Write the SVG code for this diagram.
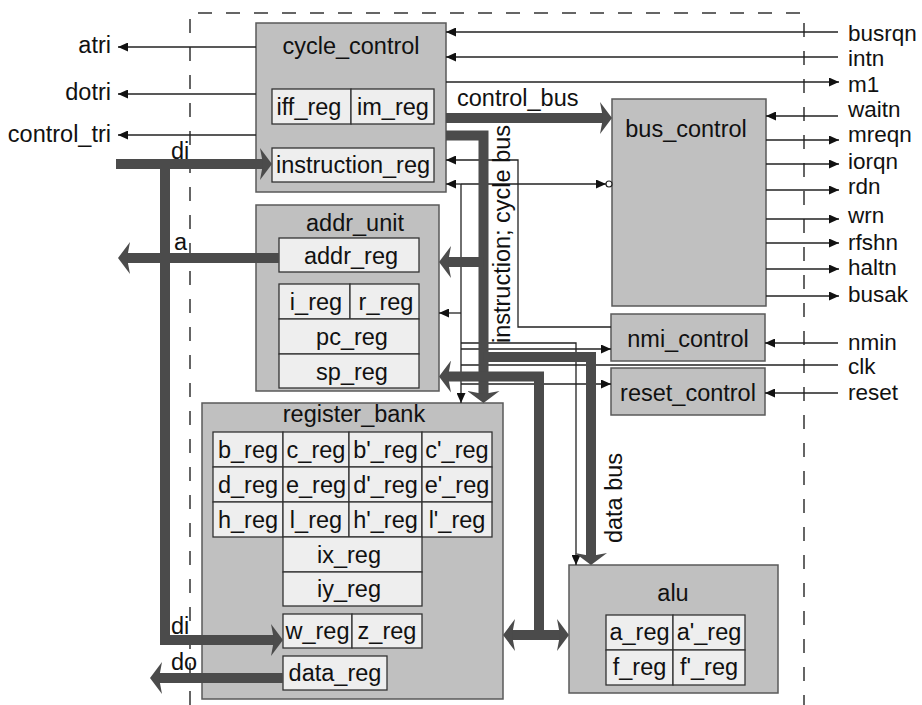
<svg xmlns="http://www.w3.org/2000/svg" width="922" height="705" viewBox="0 0 922 705">
<defs>
<style>
text{font-family:"Liberation Sans",Arial,sans-serif;font-size:23.5px;fill:#111}
.m{text-anchor:middle}
.e{text-anchor:end}
.p{font-size:22.5px}
.box{fill:#c0c0c0;stroke:#5a5a5a;stroke-width:1.5}
.cell{fill:#eeeeee;stroke:#333;stroke-width:1.3}
.w{fill:none;stroke:#222;stroke-width:1.3}
.wa{fill:none;stroke:#222;stroke-width:1.3;marker-end:url(#ah)}
.bus{fill:none;stroke:#4b4b4b;stroke-width:10;stroke-linejoin:miter}
.be{marker-end:url(#bh)}
.bs{marker-start:url(#bh)}
.dash{fill:none;stroke:#333;stroke-width:1.5;stroke-dasharray:14 14}
</style>
<marker id="ah" markerUnits="userSpaceOnUse" markerWidth="10" markerHeight="9" viewBox="0 0 10 9" refX="10" refY="4.5" orient="auto"><path d="M0,0L10,4.5L0,9z" fill="#111"/></marker>
<marker id="bh" markerUnits="userSpaceOnUse" markerWidth="12" markerHeight="32" viewBox="0 0 12 32" refX="3" refY="16" orient="auto-start-reverse"><path d="M0,0L12,16L0,32L3,16z" fill="#4b4b4b"/></marker>
</defs>
<rect width="922" height="705" fill="#fff"/>
<path class="dash" d="M190,705V13H804V705"/>

<g id="cycle_control">
<rect class="box" x="256" y="23" width="190" height="169"/>
<text class="m" x="351" y="54">cycle_control</text>
<rect class="cell" x="272" y="89" width="79" height="35"/>
<rect class="cell" x="351" y="89" width="83" height="35"/>
<text class="m" x="309" y="115">iff_reg</text>
<text class="m" x="393" y="115">im_reg</text>
<rect class="cell" x="272" y="148" width="162" height="34"/>
<text class="m" x="353" y="173">instruction_reg</text>
</g>

<g id="addr_unit">
<rect class="box" x="256" y="205" width="183" height="186"/>
<text class="m" x="355" y="231">addr_unit</text>
<rect class="cell" x="279" y="238" width="140" height="34"/>
<text class="m" x="351" y="264">addr_reg</text>
<rect class="cell" x="279" y="284" width="71" height="35"/>
<rect class="cell" x="350" y="284" width="69" height="35"/>
<text class="m" x="316" y="310">i_reg</text>
<text class="m" x="386" y="310">r_reg</text>
<rect class="cell" x="279" y="319" width="140" height="35"/>
<text class="m" x="352" y="345">pc_reg</text>
<rect class="cell" x="279" y="354" width="140" height="34"/>
<text class="m" x="352" y="380">sp_reg</text>
</g>

<g id="register_bank">
<rect class="box" x="202" y="403" width="301" height="296"/>
<text class="m" x="354" y="422">register_bank</text>
<rect class="cell" x="213" y="432" width="70" height="35"/>
<rect class="cell" x="283" y="432" width="66" height="35"/>
<rect class="cell" x="349" y="432" width="73" height="35"/>
<rect class="cell" x="422" y="432" width="70" height="35"/>
<rect class="cell" x="213" y="467" width="70" height="35"/>
<rect class="cell" x="283" y="467" width="66" height="35"/>
<rect class="cell" x="349" y="467" width="73" height="35"/>
<rect class="cell" x="422" y="467" width="70" height="35"/>
<rect class="cell" x="213" y="502" width="70" height="35"/>
<rect class="cell" x="283" y="502" width="66" height="35"/>
<rect class="cell" x="349" y="502" width="73" height="35"/>
<rect class="cell" x="422" y="502" width="70" height="35"/>
<text class="m" x="248" y="458">b_reg</text>
<text class="m" x="316" y="458">c_reg</text>
<text class="m" x="385.5" y="458">b'_reg</text>
<text class="m" x="457" y="458">c'_reg</text>
<text class="m" x="248" y="493">d_reg</text>
<text class="m" x="316" y="493">e_reg</text>
<text class="m" x="385.5" y="493">d'_reg</text>
<text class="m" x="457" y="493">e'_reg</text>
<text class="m" x="248" y="528">h_reg</text>
<text class="m" x="316" y="528">l_reg</text>
<text class="m" x="385.5" y="528">h'_reg</text>
<text class="m" x="457" y="528">l'_reg</text>
<rect class="cell" x="283" y="537" width="139" height="35"/>
<text class="m" x="349" y="563">ix_reg</text>
<rect class="cell" x="283" y="572" width="139" height="34"/>
<text class="m" x="349" y="597">iy_reg</text>
<rect class="cell" x="283" y="614" width="69" height="34"/>
<rect class="cell" x="352" y="614" width="70" height="34"/>
<text class="m" x="317.5" y="639">w_reg</text>
<text class="m" x="387" y="639">z_reg</text>
<rect class="cell" x="283" y="656" width="104" height="34"/>
<text class="m" x="335" y="681">data_reg</text>
</g>

<g id="bus_control">
<rect class="box" x="612" y="99" width="154" height="207"/>
<text class="m" x="686" y="137">bus_control</text>
</g>

<g id="nmi_control">
<rect class="box" x="611" y="314" width="154" height="47"/>
<text class="m" x="688" y="347">nmi_control</text>
</g>

<g id="reset_control">
<rect class="box" x="611" y="368" width="154" height="47"/>
<text class="m" x="688" y="401">reset_control</text>
</g>

<g id="alu">
<rect class="box" x="569" y="565" width="209" height="128"/>
<text class="m" x="673" y="601">alu</text>
<rect class="cell" x="606" y="615" width="67" height="35"/>
<rect class="cell" x="673" y="615" width="72" height="35"/>
<rect class="cell" x="606" y="650" width="67" height="35"/>
<rect class="cell" x="673" y="650" width="72" height="35"/>
<text class="m" x="639.5" y="640">a_reg</text>
<text class="m" x="709" y="640">a'_reg</text>
<text class="m" x="639.5" y="675">f_reg</text>
<text class="m" x="709" y="675">f'_reg</text>
</g>

<g id="connectors">
<path class="wa" d="M256,47H118"/>
<path class="wa" d="M256,94H118"/>
<path class="wa" d="M256,135H118"/>
<path class="wa" d="M838,32H446"/>
<path class="wa" d="M838,57H446"/>
<path class="wa" d="M446,82H839"/>
<path class="wa" d="M838,116H766"/>
<path class="wa" d="M766,140H839"/>
<path class="wa" d="M766,164H839"/>
<path class="wa" d="M766,190H839"/>
<path class="wa" d="M766,219H839"/>
<path class="wa" d="M766,243H839"/>
<path class="wa" d="M766,269H839"/>
<path class="wa" d="M766,296H839"/>
<path class="wa" d="M838,343H765"/>
<path class="w" d="M838,365H461"/>
<path class="wa" d="M838,393H765"/>
<path class="wa" d="M611,327H518V160H446"/>
<path class="wa" d="M461,184V403"/>
<path class="wa" d="M461,184H446"/>
<path class="wa" d="M461,184H606"/>
<circle cx="609" cy="184" r="3" fill="#fff" stroke="#222" stroke-width="1.2"/>
<path class="wa" d="M461,313H439"/>
<path class="wa" d="M461,343H576V565"/>
<path class="wa" d="M461,349H611"/>
<path class="wa" d="M461,384H611"/>
<path class="bus be" d="M116,164H263"/>
<path class="bus be" d="M165,164V640H274"/>
<path class="bus be" d="M279,258H127"/>
<path class="bus be" d="M283,678H159"/>
<path class="bus be" d="M446,118H603"/>
<path class="bus be" d="M446,135.5H483.5V394"/>
<path class="bus be" d="M483.5,262H448"/>
<path class="bus be" d="M483.5,357H591V556"/>
<path class="bus bs" d="M448,376.5H539V635"/>
<path class="bus bs be" d="M512,635H560"/>
<text x="457" y="106">control_bus</text>
<text class="m" transform="translate(510,234) rotate(-90)">instruction; cycle bus</text>
<text class="m" transform="translate(622,498) rotate(-90)">data bus</text>
<text x="171" y="159">di</text>
<text x="174" y="250">a</text>
<text x="171" y="634">di</text>
<text x="171" y="670">do</text>
</g>

<g id="port_labels">
<text class="e" x="111" y="53">atri</text>
<text class="e" x="111" y="100">dotri</text>
<text class="e" x="111" y="142">control_tri</text>
<text class="p" x="848" y="41">busrqn</text>
<text class="p" x="848" y="66">intn</text>
<text class="p" x="848" y="92">m1</text>
<text class="p" x="848" y="117">waitn</text>
<text class="p" x="848" y="142">mreqn</text>
<text class="p" x="848" y="169">iorqn</text>
<text class="p" x="848" y="194">rdn</text>
<text class="p" x="848" y="223">wrn</text>
<text class="p" x="848" y="250">rfshn</text>
<text class="p" x="848" y="275">haltn</text>
<text class="p" x="848" y="302">busak</text>
<text class="p" x="848" y="350">nmin</text>
<text class="p" x="848" y="374">clk</text>
<text class="p" x="848" y="400">reset</text>
</g>
</svg>
